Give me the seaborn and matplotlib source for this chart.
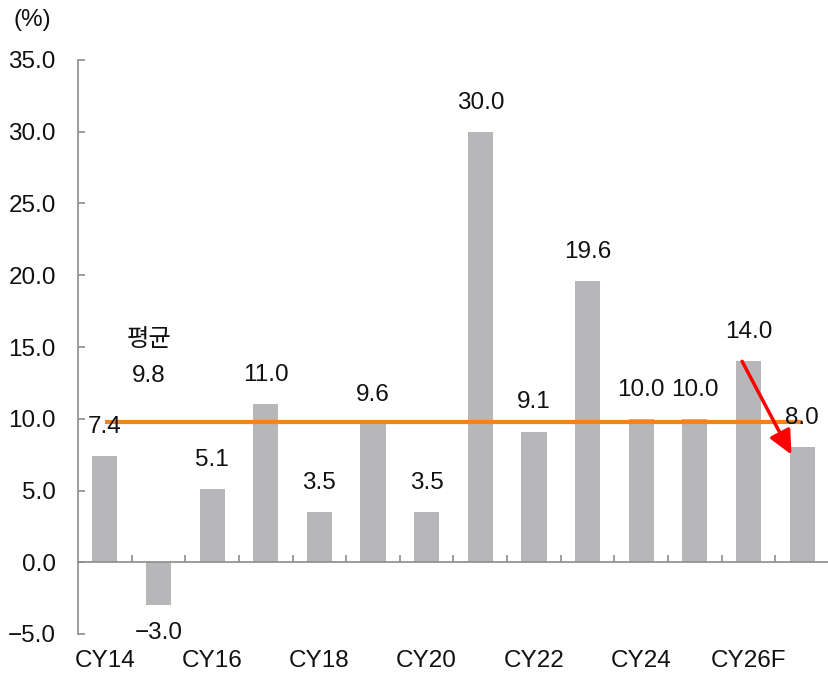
import matplotlib
matplotlib.use("Agg")
import matplotlib.pyplot as plt
import seaborn as sns
import pandas as pd

# Annual growth rate (%) by year, CY26F/CY27F are forecasts
years = ["CY14", "CY15", "CY16", "CY17", "CY18", "CY19", "CY20",
         "CY21", "CY22", "CY23", "CY24", "CY25", "CY26F", "CY27F"]
growth = [7.4, -3.0, 5.1, 11.0, 3.5, 9.6, 3.5,
          30.0, 9.1, 19.6, 10.0, 10.0, 14.0, 8.0]
shown_labels = ["CY14", "CY16", "CY18", "CY20", "CY22", "CY24", "CY26F"]
average = 9.8
y_ticks = [-5.0, 0.0, 5.0, 10.0, 15.0, 20.0, 25.0, 30.0, 35.0]

sns.set_theme(style="white")
plt.rcParams["font.family"] = ["Liberation Sans", "Noto Sans CJK KR", "DejaVu Sans"]
plt.rcParams["axes.unicode_minus"] = True

FS = 17.5
TXT = "#111111"
W, H = 829, 673
fig = plt.figure(figsize=(W / 100, H / 100), dpi=100)
ax = fig.add_axes([78 / W, 39 / H, 751 / W, 574 / H])

df = pd.DataFrame({"year": years, "growth": growth})
sns.barplot(data=df, x="year", y="growth", order=years, color="#b7b7b9",
            saturation=1, width=0.47, linewidth=0, ax=ax, zorder=2)

ax.set_xlim(-0.5, 13.5)
ax.set_ylim(-5, 35)
ax.set_xlabel("")
ax.set_ylabel("")

axis_col = "#8c8c8c"
for s in ("top", "right"):
    ax.spines[s].set_visible(False)
for s in ("left", "bottom"):
    ax.spines[s].set_color(axis_col)
    ax.spines[s].set_linewidth(1.2)
ax.spines["bottom"].set_position(("data", 0))

def fmt(v):
    return f"{v:.1f}".replace("-", "\u2212")

# y axis
ax.set_yticks(y_ticks)
ax.set_yticklabels([fmt(t) for t in y_ticks])
ax.tick_params(axis="y", direction="in", length=5, width=1.2, color=axis_col,
               pad=16, labelsize=FS, labelcolor=TXT, left=True)

# x axis: ticks between categories, labels below the plot
ax.set_xticks([k + 0.5 for k in range(len(years) - 1)])
ax.set_xticklabels([])
ax.tick_params(axis="x", direction="in", length=5, width=1.2, color=axis_col,
               bottom=True)
for i, name in enumerate(years):
    if name in shown_labels:
        ax.text(i, -6.85, name, ha="center", va="center", fontsize=FS,
                color=TXT, clip_on=False)

# average line
ax.plot([0, len(years) - 1], [average, average], color="#f5821f", lw=3,
        zorder=3, solid_capstyle="butt")
ax.text(0.82, 15.5, "평균", ha="center", va="center", fontsize=FS, color=TXT)
ax.text(0.82, 13.0, fmt(average), ha="center", va="center", fontsize=FS,
        color=TXT)

# value labels
for i, v in enumerate(growth):
    off = 21 if v >= 0 else -20
    ax.annotate(fmt(v), (i, v), xytext=(0, off), textcoords="offset points",
                ha="center", va="center", fontsize=FS, color=TXT, zorder=4)

# forecast decline arrow
ax.annotate("", xy=(12.8, 7.5), xytext=(11.88, growth[12]),
            arrowprops=dict(arrowstyle="-|>,head_length=0.8,head_width=0.38",
                            color="#ff0000", lw=2.5, mutation_scale=18,
                            shrinkA=0, shrinkB=0),
            zorder=5)

fig.text(14 / W, 1 - 20 / H, "(%)", ha="left", va="center", fontsize=FS,
         color=TXT)

fig.savefig("out.png", dpi=100)
